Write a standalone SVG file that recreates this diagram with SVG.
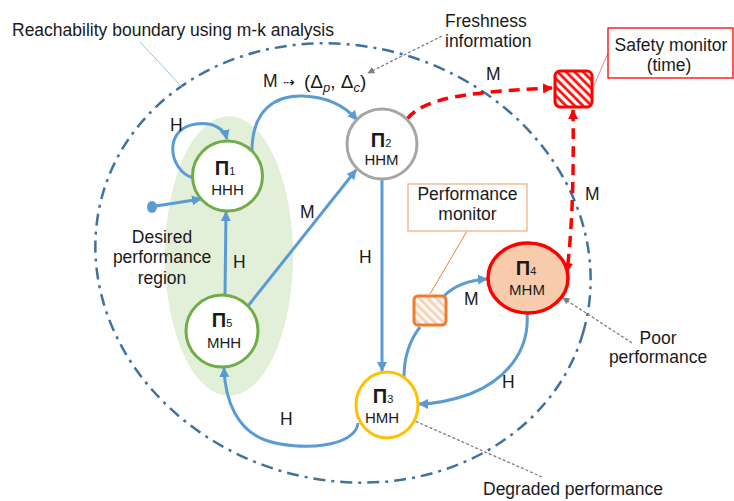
<svg xmlns="http://www.w3.org/2000/svg" width="734" height="501" viewBox="0 0 734 501">
<style>
text{font-family:"Liberation Sans",Arial,sans-serif;fill:#1a1a1a}
.lbl{font-size:17.5px}
.pi{font-size:20px;font-weight:bold}
.sub{font-size:11px}
.st{font-size:15px}
.blue{fill:none;stroke:#5B9BD5;stroke-width:3;marker-end:url(#ab)}
.red{fill:none;stroke:#FF0000;stroke-width:3.5;stroke-dasharray:11 7}
.grey{fill:none;stroke:#7F7F7F;stroke-width:1.3;stroke-dasharray:3 2;marker-end:url(#ag)}
</style>
<defs>
<marker id="ab" viewBox="0 0 10 10" markerWidth="10" markerHeight="10" refX="9" refY="5" orient="auto" markerUnits="userSpaceOnUse"><path d="M0,0 L10,5 L0,10 z" fill="#5B9BD5"/></marker>
<marker id="ar" viewBox="0 0 10 10" markerWidth="10" markerHeight="10" refX="9" refY="5" orient="auto-start-reverse" markerUnits="userSpaceOnUse"><path d="M0,0 L10,5 L0,10 z" fill="#FF0000"/></marker>
<marker id="ag" viewBox="0 0 10 10" markerWidth="7" markerHeight="7" refX="9" refY="5" orient="auto" markerUnits="userSpaceOnUse"><path d="M0,0 L10,5 L0,10 z" fill="#7F7F7F"/></marker>
<pattern id="hr" width="6" height="6" patternUnits="userSpaceOnUse" patternTransform="rotate(-45)"><rect width="6" height="6" fill="#fff"/><line x1="1.5" y1="0" x2="1.5" y2="6" stroke="#FF0000" stroke-width="2.6"/></pattern>
<pattern id="ho" width="6" height="6" patternUnits="userSpaceOnUse" patternTransform="rotate(-45)"><rect width="6" height="6" fill="#FFF8F3"/><line x1="1.5" y1="0" x2="1.5" y2="6" stroke="#F8CBAD" stroke-width="2.4"/></pattern>
</defs>
<rect width="734" height="501" fill="#fff"/>

<g id="desired-region">
<ellipse cx="229" cy="256" rx="64" ry="140" fill="#E2EFD9"/>
<text class="lbl" x="162" y="243" text-anchor="middle">Desired</text>
<text class="lbl" x="162" y="263" text-anchor="middle">performance</text>
<text class="lbl" x="162" y="284" text-anchor="middle">region</text>
</g>

<g id="boundary">
<ellipse cx="343" cy="263" rx="250" ry="217" transform="rotate(16 343 263)" fill="none" stroke="#41719C" stroke-width="2.5" stroke-dasharray="12 6 3 6"/>
<line x1="140" y1="42" x2="182" y2="87" stroke="#9DC3E6" stroke-width="1"/>
<text class="lbl" x="12" y="36">Reachability boundary using m-k analysis</text>
</g>

<g id="connectors">
<path class="blue" d="M193,178 C168,170 163,128 196,124 C212,122 224,128 227,139"/>
<path class="blue" d="M252,151 C252,110 275,95 303,96 C328,97 346,107 357,120"/>
<ellipse cx="152" cy="207" rx="5" ry="6" fill="#5B9BD5"/>
<path class="blue" d="M156,206 L201,199"/>
<path class="blue" d="M225,295 L226,212"/>
<path class="blue" d="M248,306 L356,170"/>
<path class="blue" d="M382,179 L382,371"/>
<path class="blue" d="M358,423 C356,447 300,452 265,440 C238,430 225,402 224,368"/>
<path fill="none" stroke="#5B9BD5" stroke-width="3" d="M404,377 C404,355 410,340 420,327"/>
<path class="blue" d="M444,296 C455,285 470,280 487,279"/>
<path class="blue" d="M527,313 C530,352 505,380 470,394 C450,401 432,404 419,404"/>
<path class="red" marker-end="url(#ar)" d="M407,119 C425,97 470,92 552,88"/>
<path class="red" marker-start="url(#ar)" marker-end="url(#ar)" d="M573,110 C574,180 572,230 567,272"/>
<path class="grey" d="M442,36 L368,73"/>
<path class="grey" d="M632,343 L563,298"/>
<path class="grey" d="M542,477 L406,417"/>
<text class="lbl" x="170" y="131">H</text>
<text class="lbl" x="263" y="87">M</text>
<text x="283" y="87" font-family="DejaVu Sans,sans-serif" font-size="14">⇢</text>
<text x="304" y="88" font-family="Liberation Serif,serif" font-size="19">(Δ<tspan font-style="italic" font-size="13" dy="4">p</tspan><tspan dy="-4">, Δ</tspan><tspan font-style="italic" font-size="13" dy="4">c</tspan><tspan dy="-4">)</tspan></text>
<text class="lbl" x="233" y="268">H</text>
<text class="lbl" x="300" y="218">M</text>
<text class="lbl" x="359" y="263">H</text>
<text class="lbl" x="280" y="425">H</text>
<text class="lbl" x="464" y="305">M</text>
<text class="lbl" x="502" y="388">H</text>
<text class="lbl" x="486" y="80">M</text>
<text class="lbl" x="585" y="200">M</text>
</g>

<g id="freshness">
<text class="lbl" x="445" y="27">Freshness</text>
<text class="lbl" x="445" y="47">information</text>
</g>

<g id="pi1">
<circle cx="227.5" cy="176" r="35" fill="#fff" stroke="#70AD47" stroke-width="3"/>
<text x="225" y="175" text-anchor="middle"><tspan class="pi">Π</tspan><tspan class="sub">1</tspan></text>
<text class="st" x="227.5" y="195" text-anchor="middle">HHH</text>
</g>

<g id="pi2">
<circle cx="382" cy="144" r="35" fill="#fff" stroke="#A6A6A6" stroke-width="3"/>
<text x="381" y="147" text-anchor="middle"><tspan class="pi">Π</tspan><tspan class="sub">2</tspan></text>
<text class="st" x="381.5" y="165" text-anchor="middle">HHM</text>
</g>

<g id="pi5">
<circle cx="222" cy="331" r="36" fill="#fff" stroke="#70AD47" stroke-width="3"/>
<text x="222" y="327" text-anchor="middle"><tspan class="pi">Π</tspan><tspan class="sub">5</tspan></text>
<text class="st" x="224" y="348" text-anchor="middle">MHH</text>
</g>

<g id="pi3">
<ellipse cx="387" cy="405" rx="31" ry="33" fill="#fff" stroke="#FFC000" stroke-width="3"/>
<text x="383" y="403" text-anchor="middle"><tspan class="pi">Π</tspan><tspan class="sub">3</tspan></text>
<text class="st" x="382" y="423" text-anchor="middle">HMH</text>
</g>

<g id="pi4">
<ellipse cx="528" cy="278" rx="40" ry="35" fill="#F8CBAD" stroke="#FF0000" stroke-width="3.5"/>
<text x="526" y="275" text-anchor="middle"><tspan class="pi">Π</tspan><tspan class="sub">4</tspan></text>
<text class="st" x="527" y="295" text-anchor="middle">MHM</text>
</g>

<g id="safety-monitor">
<rect x="555" y="71" width="37" height="36" rx="5" fill="url(#hr)" stroke="#FF0000" stroke-width="3"/>
<line x1="608" y1="53" x2="593" y2="88" stroke="#F08080" stroke-width="1"/>
<rect x="608" y="28" width="125" height="50" fill="#fff" stroke="#FF0000" stroke-width="1.3"/>
<text class="lbl" x="671" y="51" text-anchor="middle">Safety monitor</text>
<text class="lbl" x="669" y="71" text-anchor="middle">(time)</text>
</g>

<g id="performance-monitor">
<line x1="467" y1="231" x2="430" y2="294" stroke="#ED7D31" stroke-width="1"/>
<rect x="414" y="296" width="32" height="29" rx="4" fill="url(#ho)" stroke="#ED7D31" stroke-width="3"/>
<rect x="408" y="184" width="119" height="47" fill="#fff" stroke="#F4B183" stroke-width="1.3"/>
<text class="lbl" x="467.5" y="200" text-anchor="middle">Performance</text>
<text class="lbl" x="467.5" y="220" text-anchor="middle">monitor</text>
</g>

<g id="labels">
<text class="lbl" x="658" y="344" text-anchor="middle">Poor</text>
<text class="lbl" x="658" y="363" text-anchor="middle">performance</text>
<text class="lbl" x="483" y="495">Degraded performance</text>
</g>
</svg>
